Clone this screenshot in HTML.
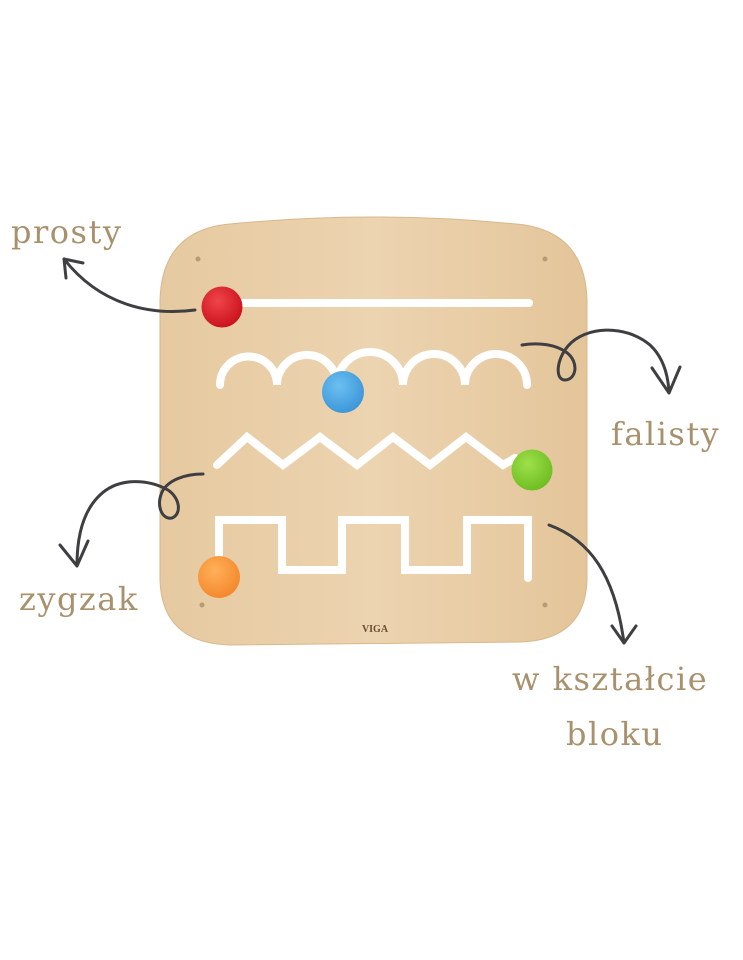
<!DOCTYPE html>
<html><head><meta charset="utf-8"><style>
html,body{margin:0;padding:0;background:#fff;}
svg{display:block;}
.t{font-family:"DejaVu Serif","Liberation Serif",serif;fill:#a8916c;font-size:32px;letter-spacing:1.5px;}
</style></head><body>
<svg width="743" height="960" viewBox="0 0 743 960" xmlns="http://www.w3.org/2000/svg">
<defs>
<linearGradient id="wood" x1="0" y1="0" x2="1" y2="0">
<stop offset="0" stop-color="#e6c9a0"/><stop offset="0.5" stop-color="#ecd4b0"/><stop offset="1" stop-color="#e4c59a"/>
</linearGradient>
<radialGradient id="r" cx="0.4" cy="0.35" r="0.7"><stop offset="0" stop-color="#f0454a"/><stop offset="1" stop-color="#c8101a"/></radialGradient>
<radialGradient id="b" cx="0.4" cy="0.35" r="0.7"><stop offset="0" stop-color="#6cc0f0"/><stop offset="1" stop-color="#3a94d8"/></radialGradient>
<radialGradient id="g" cx="0.4" cy="0.35" r="0.7"><stop offset="0" stop-color="#9ee04a"/><stop offset="1" stop-color="#6cbc20"/></radialGradient>
<radialGradient id="o" cx="0.4" cy="0.35" r="0.7"><stop offset="0" stop-color="#ffb05a"/><stop offset="1" stop-color="#f4862a"/></radialGradient>
</defs>
<path d="M230,224 Q373,210 516,224 Q585,230 587,300 L587,580 Q585,640 520,642 L230,645 Q162,643 160,580 L160,300 Q162,230 230,224 Z" fill="url(#wood)" stroke="#d8b88c" stroke-width="1"/>
<g fill="none" stroke="#fff" stroke-width="8" stroke-linecap="round" stroke-linejoin="miter">
<line x1="240" y1="303" x2="529" y2="303"/>
<path d="M220,385 A28.5,28.5 0 0 1 277,385 A30,30 0 0 1 337,385 A33,33 0 0 1 403,385 A31,31 0 0 1 465,385 A31,31 0 0 1 527,385"/>
<path d="M217,465 L247,437 L283,465 L320,437 L357,465 L393,437 L430,465 L466,437 L503,465 L515,458"/>
<path d="M219,555 L219,520 L282,520 L282,570 L342,570 L342,520 L405,520 L405,570 L467,570 L467,520 L528,520 L528,578"/>
</g>
<g fill="#b89b74"><circle cx="198" cy="259" r="2.5"/><circle cx="545" cy="259" r="2.5"/><circle cx="202" cy="605" r="2.5"/><circle cx="545" cy="605" r="2.5"/></g>
<text x="375" y="632" font-family="Liberation Serif,serif" font-weight="bold" font-size="10" fill="#6a4e30" text-anchor="middle">VIGA</text>
<circle cx="222" cy="307" r="20.5" fill="url(#r)"/>
<circle cx="343" cy="392" r="21" fill="url(#b)"/>
<circle cx="532" cy="470" r="20.5" fill="url(#g)"/>
<circle cx="219" cy="577" r="21" fill="url(#o)"/>
<g fill="none" stroke="#3f3f42" stroke-width="3" stroke-linecap="round" stroke-linejoin="round">
<path d="M195,310 C150,316 100,305 64,259"/>
<path d="M83,263 L64,259 L66,278"/>
<path d="M203,474 C185,474 168,480 162,492 C156,506 162,520 172,518 C182,514 180,498 168,490 C150,480 120,476 100,495 C82,512 77,540 77,565"/>
<path d="M60,545 L77,566 L88,541"/>
<path d="M522,345 C540,342 556,345 566,352 C580,362 576,380 565,380 C555,380 556,360 568,346 C585,326 625,324 650,345 C663,357 668,375 669,392"/>
<path d="M652,368 L669,393 L680,367"/>
<path d="M549,525 C590,540 615,575 624,643"/>
<path d="M612,626 L624,643 L636,626"/>
</g>
<text class="t" x="11" y="243">prosty</text>
<text class="t" x="611" y="445">falisty</text>
<text class="t" x="19" y="610">zygzak</text>
<text class="t" x="512" y="690">w kształcie</text>
<text class="t" x="566" y="745">bloku</text>
</svg>
</body></html>
